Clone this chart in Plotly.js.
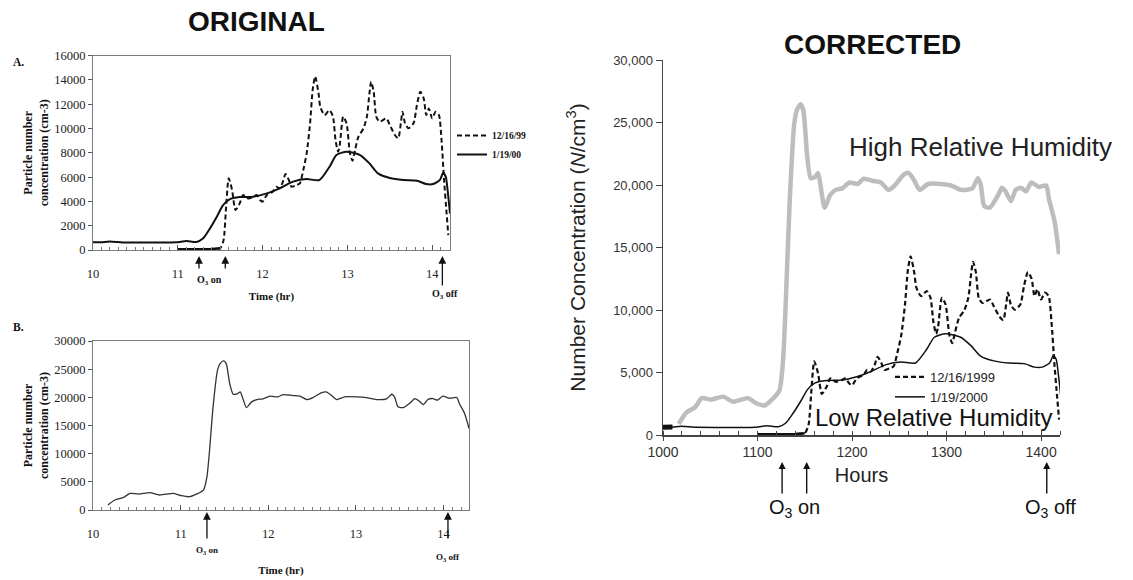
<!DOCTYPE html>
<html><head><meta charset="utf-8">
<script src="https://cdn.plot.ly/plotly-3.0.1.min.js"></script>
<style>html,body{margin:0;padding:0;background:#fff}#chart{width:1133px;height:580px}</style>
</head><body><div id="chart"></div>
<script>
// ---- data ----
// Low relative humidity, 12/16/99 (dashed)
const lowHours1216 = [11.0, 11.2, 11.4, 11.5, 11.54, 11.57, 11.6, 11.64, 11.68, 11.73, 11.77, 11.83, 11.89, 11.93, 11.97, 12.0, 12.05, 12.12, 12.16, 12.2, 12.24, 12.27, 12.31, 12.34, 12.4, 12.44, 12.48, 12.52, 12.56, 12.59, 12.62, 12.66, 12.68, 12.73, 12.79, 12.83, 12.86, 12.89, 12.91, 12.95, 12.99, 13.03, 13.06, 13.09, 13.13, 13.19, 13.23, 13.26, 13.28, 13.31, 13.34, 13.38, 13.46, 13.5, 13.56, 13.6, 13.63, 13.65, 13.68, 13.72, 13.78, 13.82, 13.86, 13.9, 13.93, 13.96, 14.0, 14.04, 14.08, 14.11, 14.14, 14.17, 14.19];
const lowConc1216 = [60, 60, 80, 140, 820, 3570, 5900, 4940, 3290, 3840, 4530, 4250, 4390, 4530, 4120, 3980, 4530, 4800, 5210, 5080, 5630, 6260, 5760, 5210, 5350, 5490, 6590, 7960, 10430, 13170, 14300, 12900, 11800, 11110, 11520, 10980, 9060, 8090, 8640, 10980, 10430, 7960, 7350, 8230, 9330, 10020, 10980, 12900, 13860, 13030, 10980, 10560, 10840, 10290, 9470, 9190, 10430, 11390, 10430, 10020, 10430, 11940, 13030, 12490, 11110, 11660, 10840, 11390, 11110, 9060, 5760, 3020, 1230];
// Low relative humidity, 1/19/00 (solid)
const lowHours0119 = [10.0, 10.1, 10.2, 10.35, 10.6, 10.98, 11.1, 11.22, 11.3, 11.38, 11.46, 11.53, 11.61, 11.73, 11.89, 12.05, 12.2, 12.36, 12.52, 12.67, 12.79, 12.87, 12.99, 13.15, 13.26, 13.36, 13.5, 13.66, 13.82, 13.93, 14.01, 14.09, 14.13, 14.16, 14.19, 14.21];
const lowConc0119 = [630, 640, 700, 620, 610, 630, 740, 660, 960, 1780, 2740, 3650, 4170, 4360, 4390, 4660, 5080, 5630, 5840, 5760, 6860, 7820, 8100, 7820, 7130, 6310, 5930, 5760, 5710, 5430, 5430, 5760, 6370, 6040, 4390, 3000];
// High relative humidity (panel B / grey line)
const highHours = [10.17, 10.25, 10.35, 10.42, 10.52, 10.65, 10.76, 10.92, 11.01, 11.1, 11.18, 11.26, 11.3, 11.33, 11.37, 11.42, 11.45, 11.49, 11.52, 11.56, 11.6, 11.65, 11.68, 11.71, 11.75, 11.81, 11.87, 11.94, 12.02, 12.11, 12.17, 12.28, 12.36, 12.44, 12.51, 12.61, 12.66, 12.72, 12.78, 12.87, 13.01, 13.12, 13.23, 13.35, 13.41, 13.44, 13.48, 13.54, 13.63, 13.67, 13.71, 13.77, 13.82, 13.88, 13.93, 13.99, 14.07, 14.15, 14.18, 14.24, 14.29];
const highConc = [890, 1770, 2240, 2950, 2830, 3070, 2660, 2950, 2540, 2360, 2830, 3540, 5900, 10630, 18310, 24800, 25990, 26460, 25990, 22440, 20550, 20670, 20970, 19780, 18190, 19190, 19610, 19730, 20200, 20080, 20490, 20320, 20200, 19610, 19960, 20850, 20970, 20380, 19610, 20080, 20080, 19960, 19610, 19730, 20550, 20080, 18310, 18190, 19190, 19780, 19490, 18720, 19610, 19780, 19490, 20200, 19840, 19960, 18900, 17130, 14470];

const namesOriginal = ['12/16/99', '1/19/00'];
const namesCorrected = ['12/16/1999', '1/19/2000'];
const hourTicks = [10, 11, 12, 13, 14];
const hoursTicksCorrected = [1000, 1100, 1200, 1300, 1400];
const o3OnA = [11.25, 11.56];
const o3OffA = 14.12;
const o3OnB = 11.3;
const o3OffB = 14.05;
const o3OnC = [1126, 1152];
const o3OffC = 1406;

// ---- helpers ----
const toClock = a => a.map(v => +(v * 100).toFixed(1));
const W = 1133, H = 580;
const px = v => v / W, py = v => 1 - v / H;
const SERIF = 'Liberation Serif, Times New Roman, serif';
const SANS = 'Liberation Sans, Arial, Helvetica, sans-serif';
const INK = '#111';

const traces = [
  // Panel A
  {x: lowHours1216, y: lowConc1216, xaxis: 'x', yaxis: 'y', mode: 'lines', name: namesOriginal[0],
   line: {color: INK, width: 2, dash: '5px,3px', shape: 'spline', smoothing: 0.6}, legend: 'legend', legendgroup: 'a1'},
  {x: lowHours1216.slice(0, 4), y: lowConc1216.slice(0, 4), xaxis: 'x', yaxis: 'y', mode: 'lines',
   line: {color: INK, width: 2.5}, showlegend: false},
  {x: lowHours0119, y: lowConc0119, xaxis: 'x', yaxis: 'y', mode: 'lines', name: namesOriginal[1],
   line: {color: INK, width: 2, shape: 'spline', smoothing: 0.6}, legend: 'legend', legendgroup: 'a2'},
  // Panel B
  {x: highHours, y: highConc, xaxis: 'x2', yaxis: 'y2', mode: 'lines', showlegend: false,
   line: {color: '#333', width: 1.3, shape: 'spline', smoothing: 0.6}},
  // Corrected panel (grey high-RH curve is drawn on its own, slightly wider, overlaying hour scale)
  {x: toClock(highHours), y: highConc, xaxis: 'x4', yaxis: 'y3', mode: 'lines', showlegend: false,
   line: {color: '#bdbdbd', width: 4.5, shape: 'spline', smoothing: 0.6}},
  {x: toClock(lowHours1216), y: lowConc1216, xaxis: 'x3', yaxis: 'y3', mode: 'lines', name: namesCorrected[0],
   line: {color: INK, width: 2.2, dash: '5px,3px', shape: 'spline', smoothing: 0.6}, legend: 'legend2'},
  {x: toClock(lowHours1216.slice(0, 4)), y: lowConc1216.slice(0, 4), xaxis: 'x3', yaxis: 'y3', mode: 'lines',
   line: {color: INK, width: 2.5}, showlegend: false},
  {x: toClock(lowHours0119), y: lowConc0119, xaxis: 'x3', yaxis: 'y3', mode: 'lines', name: namesCorrected[1],
   line: {color: INK, width: 1.5, shape: 'spline', smoothing: 0.6}, legend: 'legend2'},
  {x: toClock(lowHours0119.slice(0, 2)), y: lowConc0119.slice(0, 2), xaxis: 'x3', yaxis: 'y3', mode: 'lines',
   line: {color: INK, width: 5}, showlegend: false}
];

const boxAxis = {showline: true, mirror: true, linecolor: '#7a7a7a', linewidth: 1, showgrid: false, zeroline: false,
  automargin: false, tickfont: {family: SERIF, size: 12.5, color: '#222'}, tickcolor: '#555', tickformat: 'd'};

const layout = {
  width: W, height: H, margin: {l: 0, r: 0, t: 0, b: 0},
  paper_bgcolor: '#fff', plot_bgcolor: '#fff',
  font: {family: SERIF, color: '#111'},
  showlegend: true,
  xaxis: Object.assign({}, boxAxis, {domain: [px(93), px(450)], range: [10, 14.21], anchor: 'y',
    tickvals: hourTicks, ticks: 'inside', ticklen: 5, ticklabelstandoff: 12,
    minor: {dtick: 0.1, ticks: 'inside', ticklen: 3, tickcolor: '#777', showgrid: false},
    title: {text: '<b>Time (hr)</b>', font: {family: SERIF, size: 11}, standoff: 12}}),
  yaxis: Object.assign({}, boxAxis, {domain: [py(250), py(55.7)], range: [0, 16000], anchor: 'x',
    dtick: 2000, ticks: 'outside', ticklen: 4,
    title: {text: '<b>Particle number<br>concentration (cm-3)</b>', font: {family: SERIF, size: 12}, standoff: 3}}),
  xaxis2: Object.assign({}, boxAxis, {domain: [px(93), px(469)], range: [10, 14.29], anchor: 'y2',
    tickvals: hourTicks, ticks: 'inside', ticklen: 5, ticklabelstandoff: 12,
    minor: {dtick: 0.1, ticks: 'inside', ticklen: 3, tickcolor: '#777', showgrid: false},
    title: {text: '<b>Time (hr)</b>', font: {family: SERIF, size: 11}, standoff: 26}}),
  yaxis2: Object.assign({}, boxAxis, {domain: [py(510), py(341)], range: [0, 30000], anchor: 'x2',
    dtick: 5000, ticks: 'outside', ticklen: 4,
    title: {text: '<b>Particle number<br>concentration (cm-3)</b>', font: {family: SERIF, size: 12}, standoff: 3}}),
  xaxis3: {domain: [px(663), px(1060)], range: [1000, 1420], anchor: 'y3', automargin: false,
    showline: true, linecolor: '#444', linewidth: 1.5, showgrid: false, zeroline: false,
    tickvals: hoursTicksCorrected, ticks: 'outside', ticklen: 4, tickcolor: '#444',
    minor: {dtick: 20, ticks: 'inside', ticklen: 4, tickcolor: '#444', showgrid: false},
    tickfont: {family: SANS, size: 14, color: '#333'},
    title: {text: 'Hours', font: {family: SANS, size: 20, color: '#222'}, standoff: 8}},
  xaxis4: {domain: [px(663), px(1076)], range: [1000, 1430], anchor: 'y3', overlaying: 'x3', visible: false,
    automargin: false, showgrid: false, zeroline: false},
  yaxis3: {domain: [py(435), py(60)], range: [0, 30000], anchor: 'x3', automargin: false,
    showline: true, linecolor: '#444', linewidth: 1.5, showgrid: false, zeroline: false,
    dtick: 5000, tickformat: ',', ticks: 'outside', ticklen: 6, tickcolor: '#444',
    tickfont: {family: SANS, size: 13, color: '#333'},
    title: {text: 'Number Concentration (<i>N</i>/cm<sup>3</sup>)', font: {family: SANS, size: 21, color: '#222'}, standoff: 22}},
  legend: {x: px(452), y: py(121), xanchor: 'left', yanchor: 'top', bgcolor: 'rgba(0,0,0,0)',
    font: {family: SERIF, size: 9.5, color: '#111', weight: 'bold'}, tracegroupgap: 0, itemwidth: 30},
  legend2: {x: px(890), y: py(362), xanchor: 'left', yanchor: 'top', bgcolor: 'rgba(0,0,0,0)',
    font: {family: SANS, size: 13, color: '#222'}, tracegroupgap: 0, itemwidth: 30},
  annotations: []
};

const ann = layout.annotations;
const txt = (o) => ann.push(Object.assign({showarrow: false, xanchor: 'center', yanchor: 'middle'}, o));
txt({text: '<b>ORIGINAL</b>', xref: 'paper', yref: 'paper', x: px(256), y: py(21), font: {family: SANS, size: 28, color: '#111'}});
txt({text: '<b>CORRECTED</b>', xref: 'paper', yref: 'paper', x: px(872), y: py(44), font: {family: SANS, size: 28, color: '#111'}});
txt({text: '<b>A.</b>', xref: 'paper', yref: 'paper', x: px(11), y: py(62), xanchor: 'left', font: {family: SERIF, size: 11.5}});
txt({text: '<b>B.</b>', xref: 'paper', yref: 'paper', x: px(11), y: py(327), xanchor: 'left', font: {family: SERIF, size: 11.5}});

const arrow = (o) => ann.push(Object.assign({text: '', showarrow: true, ax: 0, arrowcolor: INK, arrowhead: 2, arrowsize: 1.2, arrowwidth: 1.3}, o));
// Panel A arrows
o3OnA.forEach(h => arrow({xref: 'x', yref: 'paper', x: h, y: py(256), ay: 14}));
arrow({xref: 'x', yref: 'paper', x: o3OffA, y: py(256), ay: 31});
txt({text: '<b>O<sub>3</sub> on</b>', xref: 'x', yref: 'paper', x: (o3OnA[0] + o3OnA[1]) / 2 - 0.03, y: py(280), font: {family: SERIF, size: 10}});
txt({text: '<b>O<sub>3</sub> off</b>', xref: 'x', yref: 'paper', x: o3OffA + 0.03, y: py(294), font: {family: SERIF, size: 10}});
// Panel B arrows
arrow({xref: 'x2', yref: 'paper', x: o3OnB, y: py(512), ay: 28});
arrow({xref: 'x2', yref: 'paper', x: o3OffB, y: py(512), ay: 28});
txt({text: '<b>O<sub>3</sub> on</b>', xref: 'x2', yref: 'paper', x: o3OnB, y: py(550), font: {family: SERIF, size: 9}});
txt({text: '<b>O<sub>3</sub> off</b>', xref: 'x2', yref: 'paper', x: o3OffB, y: py(557), font: {family: SERIF, size: 9}});
// Corrected arrows
o3OnC.concat([o3OffC]).forEach(h => arrow({xref: 'x3', yref: 'paper', x: h, y: py(462), ay: 33, arrowhead: 2, arrowsize: 1, arrowwidth: 1.4}));
txt({text: 'O<sub>3</sub> on', xref: 'x3', yref: 'paper', x: (o3OnC[0] + o3OnC[1]) / 2, y: py(508), font: {family: SANS, size: 20, color: '#111'}});
txt({text: 'O<sub>3</sub> off', xref: 'x3', yref: 'paper', x: o3OffC + 4, y: py(508), font: {family: SANS, size: 20, color: '#111'}});
txt({text: 'High Relative Humidity', xref: 'x3', yref: 'y3', x: 1336, y: 23040, font: {family: SANS, size: 26, color: '#222'}});
txt({text: 'Low Relative Humidity', xref: 'x3', yref: 'y3', x: 1286, y: 1400, font: {family: SANS, size: 24, color: '#111'}});

Plotly.newPlot('chart', traces, layout, {displayModeBar: false, responsive: false, staticPlot: true});
</script></body></html>
